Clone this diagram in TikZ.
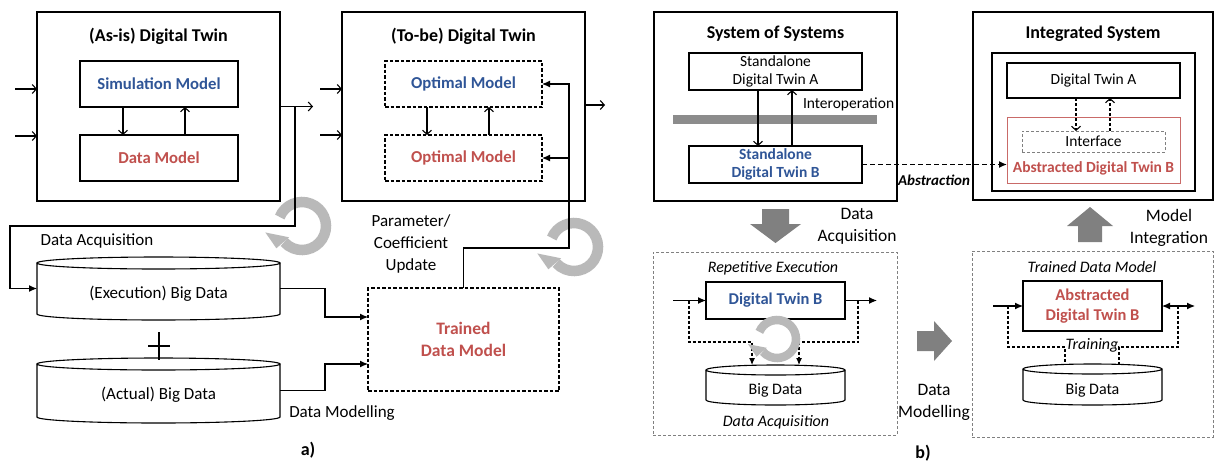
\documentclass[tikz,border=0pt]{standalone}
\usepackage{fontspec}
\setmainfont{Carlito}
\usetikzlibrary{arrows.meta,calc}
\definecolor{tblue}{RGB}{47,85,151}
\definecolor{tred}{RGB}{192,80,77}
\definecolor{ringgray}{RGB}{185,185,185}
\definecolor{blockgray}{RGB}{128,128,128}
\definecolor{bargray}{RGB}{140,140,140}
\newcommand\cylsh[2]{%
  \draw[ln] let \p1=(#1.north west), \p2=(#1.south east), \n1={(\x2-\x1)/2} in
    (\x1,\y1-#2pt) -- (\x1,\y2+#2pt)
    arc[start angle=180, end angle=360, x radius={\n1*1pt}, y radius=#2pt]
    -- (\x2,\y1-#2pt)
    ({(\x1+\x2)/2},\y1-#2pt) ellipse[x radius={\n1*1pt}, y radius=#2pt];}
% ring arrow: centre x, centre y, mid radius, band width
\newcommand\ringarrow[4]{%
  \begin{scope}[shift={(#1,#2)}, x=1pt, y=1pt]
  \draw[draw=ringgray, line width=#4pt]
    (158:#3) arc[start angle=158, end angle=-138, radius=#3];
  \fill[ringgray] (221:{#3-0.65*#4}) -- (221:{#3+0.95*#4}) -- (190:{1.55*#3}) -- cycle;
  \end{scope}}
\begin{document}
\begin{tikzpicture}[x=1pt,y=-1pt,
  every node/.style={inner sep=0pt, outer sep=0pt},
  ln/.style={line width=1.1pt},
  box/.style={draw, line width=1.1pt},
  dbox/.style={draw, line width=1.1pt, dash pattern=on 3.5pt off 2pt},
  gdbox/.style={draw=black!50, line width=0.9pt, dash pattern=on 3pt off 2pt},
  oarr/.style={ln, -{Straight Barb[length=4pt,width=9pt]}},
  farr/.style={ln, -{Latex[length=8pt,width=7pt]}},
  dfarr/.style={ln, dash pattern=on 3pt off 2pt, -{Latex[length=7pt,width=6pt]}},
  dln/.style={ln, dash pattern=on 3pt off 2pt},
  fa/.style={font=\fontsize{17}{22}\selectfont},
  fab/.style={font=\fontsize{16.7}{20}\selectfont\bfseries},
  ftitle/.style={font=\fontsize{18}{22}\selectfont\bfseries},
  fb/.style={font=\fontsize{15.5}{18}\selectfont},
  fbb/.style={font=\fontsize{15.5}{18}\selectfont\bfseries},
  fbi/.style={font=\fontsize{16}{19}\selectfont\itshape},
  fl/.style={font=\fontsize{17.5}{22}\selectfont},
]
\fill[white] (0,0) rectangle (1214,461);
\useasboundingbox (0,0) rectangle (1214,461);

% ---------- rings (part a) ----------
\ringarrow{302}{226}{24}{10.5}
\ringarrow{574}{247}{24}{10.5}

% ---------- part a ----------
\node[box, minimum width=243pt, minimum height=189pt] (asis) at (158.5,106.5) {};
\node[ftitle] (asisT) at (158.5,36) {(As-is) Digital Twin};
\node[box, fab, text=tblue, minimum width=158pt, minimum height=46pt] (sim) at (159,84) {Simulation Model};
\node[box, fab, text=tred, minimum width=158pt, minimum height=46pt] (dm) at (159,158) {Data Model};
\draw[oarr] ($(sim.south)+(-36,0)$) -- ($(dm.north)+(-36,0)$);
\draw[oarr] ($(dm.north)+(26,0)$) -- ($(sim.south)+(26,0)$);
\coordinate (inA1) at (15,89);
\coordinate (inA2) at (15,136);
\draw[oarr] (inA1) -- (inA1 -| asis.west);
\draw[oarr] (inA2) -- (inA2 -| asis.west);
\coordinate (outA) at (313,106.5);
\draw[oarr] (asis.east) -- (outA);

\node[minimum width=243pt, minimum height=63pt] (exe) at (158.5,288.5) {};
\cylsh{exe}{6}
\node[fa] at ($(exe)+(0,5.5)$) {(Execution) Big Data};
\node[minimum width=243pt, minimum height=65pt] (act) at (158.5,390.5) {};
\cylsh{act}{6}
\node[fa] at ($(act)+(0,4.5)$) {(Actual) Big Data};
\draw[line width=1.4pt] (148,346) -- (170,346) (159,332) -- (159,360);

\coordinate (daA) at (295,106.5);
\draw[farr] (daA) -- ++(0,119.5) -| ($(exe.west)+(-27,0)$) -- (exe.west);

\node[dbox, text=tred, align=center, font=\fontsize{17.5}{22}\selectfont\bfseries,
      minimum width=191pt, minimum height=103pt] (tdm) at (463.5,339.5) {Trained\\Data Model};
\draw[farr] (exe.east) -- ++(45,0) |- ($(tdm.west)+(0,-22.5)$);
\draw[farr] (act.east) -- ++(45,0) |- ($(tdm.west)+(0,24.5)$);

\node[box, minimum width=243pt, minimum height=189pt] (tobe) at (463.5,106.5) {};
\node[ftitle] (tobeT) at (463.5,36) {(To-be) Digital Twin};
\node[dbox, fab, text=tblue, minimum width=157pt, minimum height=46pt] (om1) at (463.5,84) {Optimal Model};
\node[dbox, fab, text=tred, minimum width=157pt, minimum height=46pt] (om2) at (463.5,158) {Optimal Model};
\draw[oarr] ($(om1.south)+(-36.5,0)$) -- ($(om2.north)+(-36.5,0)$);
\draw[oarr] ($(om2.north)+(25.5,0)$) -- ($(om1.south)+(25.5,0)$);
\coordinate (inB1) at (320,89);
\coordinate (inB2) at (320,135);
\draw[oarr] (inB1) -- (inB1 -| tobe.west);
\draw[oarr] (inB2) -- (inB2 -| tobe.west);
\coordinate (outB) at (605,105);
\draw[oarr] (tobe.east |- outB) -- (outB);
\draw[farr] (tdm.north) -- ++(0,-40) -| ($(om1.east)+(27,0)$) -- (om1.east);
\draw[farr] ($(om2.east)+(27,0)$) -- (om2.east);

\node[fa] at (97,241) {Data Acquisition};
\node[fa, align=center] at (411,244) {Parameter/\\Coefficient\\Update};
\node[fa] at (342,413) {Data Modelling};
\node[font=\fontsize{18}{22}\selectfont\bfseries] at (308,450) {a)};

% ---------- part b : System of Systems ----------
\node[box, minimum width=243pt, minimum height=189pt] (sos) at (775.5,106.5) {};
\node[ftitle] at (775.5,34) {System of Systems};
\fill[bargray] (673,115) rectangle (877,124);
\node[box, fb, align=center, minimum width=173pt, minimum height=37pt] (sdA) at (775.5,71.5) {Standalone\\Digital Twin A};
\node[box, fbb, text=tblue, align=center, minimum width=173pt, minimum height=37pt] (sdB) at (775.5,164.5) {Standalone\\Digital Twin B};
\draw[oarr] ($(sdA.south)+(-17.5,0)$) -- ($(sdB.north)+(-17.5,0)$);
\draw[oarr] ($(sdB.north)+(16.5,0)$) -- ($(sdA.south)+(16.5,0)$);
\node[fb, anchor=west] at (803,104) {Interoperation};

% ---------- Integrated System ----------
\node[box, minimum width=240pt, minimum height=188pt] (integ) at (1093,106) {};
\node[ftitle] at (1093,34) {Integrated System};
\node[box, minimum width=203pt, minimum height=138pt] (inner) at (1093.5,122) {};
\node[box, fb, minimum width=173pt, minimum height=35pt] (dtA) at (1093.5,80.5) {Digital Twin A};
\node[draw=tred!85, line width=0.9pt, minimum width=173pt, minimum height=66pt] (adtB) at (1093.5,150) {};
\node[gdbox, fb, minimum width=143pt, minimum height=21pt] (iface) at (1093.5,141.5) {Interface};
\node[fbb, text=tred] at (1093.5,168) {Abstracted Digital Twin B};
\draw[oarr, dash pattern=on 3pt off 2pt] ($(dtA.south)+(-17.5,0)$) -- ($(iface.north)+(-17.5,0)$);
\draw[oarr, dash pattern=on 3pt off 2pt] ($(iface.north)+(16.5,0)$) -- ($(dtA.south)+(16.5,0)$);
\draw[line width=1.4pt, dash pattern=on 5pt off 3pt, -{Latex[length=8pt,width=7pt]}] (sdB.east) -- (sdB.east -| adtB.west);
\node[font=\fontsize{15}{18}\selectfont\bfseries\itshape] at (934,180) {Abstraction};

% ---------- block arrows ----------
\fill[blockgray] (762,209) -- (789,209) -- (789,224) -- (801,224) -- (775.5,243) -- (750,224) -- (762,224) -- cycle;
\node[fl, align=center] at (857,226) {Data\\Acquisition};
\fill[blockgray] (917,331) -- (934,331) -- (934,321) -- (952,341) -- (934,361) -- (934,351) -- (917,351) -- cycle;
\node[fl, align=center] at (934,402) {Data\\Modelling};
\fill[blockgray] (1078,242) -- (1102,242) -- (1102,226) -- (1113,226) -- (1090,207) -- (1067,226) -- (1078,226) -- cycle;
\node[fl, align=center] at (1169,228) {Model\\Integration};

% ---------- Repetitive Execution ----------
\node[gdbox, minimum width=244pt, minimum height=183pt] (rep) at (775,343.5) {};
\node[fbi] at (773,268) {Repetitive Execution};
\node[box, text=tblue, font=\fontsize{16.5}{19}\selectfont\bfseries, minimum width=139pt, minimum height=37pt] (dtB) at (775.5,300.5) {Digital Twin B};
\draw[farr] ($(dtB.west)+(-33,0)$) -- (dtB.west);
\draw[farr] (dtB.east) -- ++(32,0);
\node[minimum width=139pt, minimum height=40pt] (bd1) at (775.5,385) {};
\cylsh{bd1}{5}
\node[fb, font=\fontsize{16}{19}\selectfont] at (775.5,390) {Big Data};
\draw[dfarr] ($(dtB.west)+(-17,0)$) -- ++(0,41.5) -| ($(bd1.north)+(-23.5,0)$);
\draw[dfarr] ($(dtB.east)+(13,0)$) -- ++(0,41.5) -| ($(bd1.north)+(23.5,0)$);
\node[fbi] at (776,422) {Data Acquisition};
\ringarrow{777}{339}{19}{8.5}

% ---------- Trained Data Model ----------
\node[gdbox, minimum width=241pt, minimum height=186pt] (tr) at (1092.5,344) {};
\node[fbi] at (1092,267) {Trained Data Model};
\node[box, text=tred, align=center, font=\fontsize{16.5}{19.5}\selectfont\bfseries, minimum width=139pt, minimum height=50pt] (adt2) at (1092.5,306) {Abstracted\\Digital Twin B};
\draw[farr] ($(adt2.west)+(-30,0)$) -- (adt2.west);
\draw[ln, {Latex[length=8pt,width=7pt]}-{Latex[length=8pt,width=7pt]}] (adt2.east) -- ++(33,0);
\node[minimum width=139pt, minimum height=41pt] (bd2) at (1092.5,384.5) {};
\cylsh{bd2}{5}
\node[font=\fontsize{16}{19}\selectfont] at (1092.5,390) {Big Data};
\draw[dln] ($(adt2.west)+(-15,0)$) -- ++(0,41) -| ($(bd2.north)+(-27.5,0)$);
\draw[dln] ($(adt2.east)+(16,0)$) -- ++(0,41) -| ($(bd2.north)+(26.5,0)$);
\node[fbi] at (1092,345) {Training};
\node[font=\fontsize{18}{22}\selectfont\bfseries] at (923,453) {b)};
\end{tikzpicture}
\end{document}
